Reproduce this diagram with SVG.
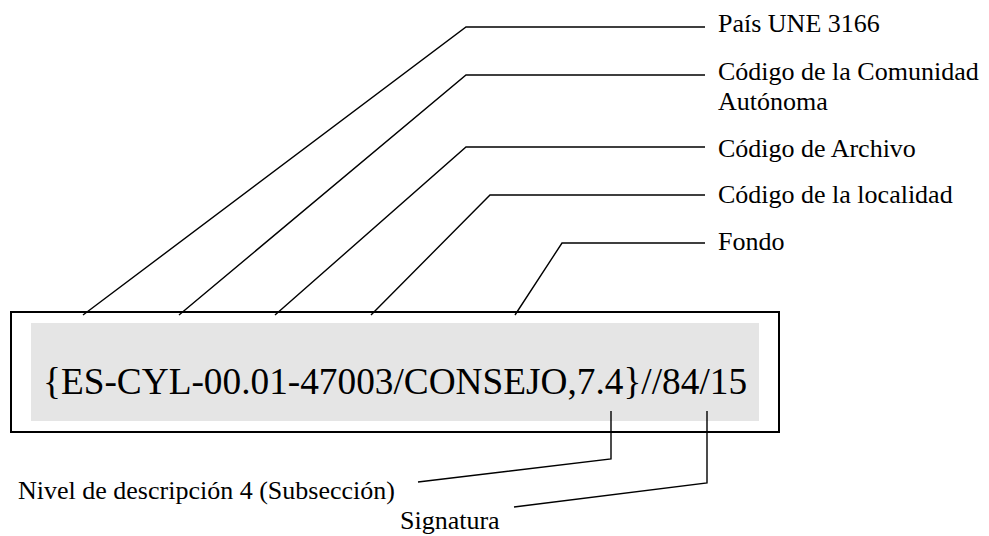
<svg xmlns="http://www.w3.org/2000/svg" width="989" height="536" viewBox="0 0 989 536">
<style>
.lbl{font-family:"Liberation Serif","Times New Roman",serif;font-size:26px;fill:#000}
.code{font-family:"Liberation Serif","Times New Roman",serif;font-size:37.3px;fill:#000}
.ln{fill:none;stroke:#000;stroke-width:1.4}
</style>
<rect x="0" y="0" width="989" height="536" fill="#fff"/>
<g id="code-box">
<rect x="11" y="312" width="768" height="120" fill="#fff" stroke="#000" stroke-width="2"/>
<rect x="31" y="323" width="728" height="98" fill="#e5e5e5"/>
<text class="code" x="43" y="394">{ES-CYL-00.01-47003/CONSEJO,7.4}//84/15</text>
</g>
<g id="connectors">
<polyline class="ln" points="83,315 466,27 705,27"/>
<polyline class="ln" points="179,315 466,75 705,75"/>
<polyline class="ln" points="275,315 466,147 705,147"/>
<polyline class="ln" points="371,315 490,195 705,195"/>
<polyline class="ln" points="515,315 562,243 705,243"/>
<polyline class="ln" points="611,411 611,459 418,482"/>
<polyline class="ln" points="707,411 707,483 514,507"/>
</g>
<g id="label-pais"><text class="lbl" x="718" y="32">País UNE 3166</text></g>
<g id="label-comunidad"><text class="lbl" x="718" y="80">Código de la Comunidad</text><text class="lbl" x="718" y="110">Autónoma</text></g>
<g id="label-archivo"><text class="lbl" x="718" y="157">Código de Archivo</text></g>
<g id="label-localidad"><text class="lbl" x="718" y="203">Código de la localidad</text></g>
<g id="label-fondo"><text class="lbl" x="718" y="250">Fondo</text></g>
<g id="label-nivel"><text class="lbl" x="18" y="499">Nivel de descripción 4 (Subsección)</text></g>
<g id="label-signatura"><text class="lbl" x="400" y="529">Signatura</text></g>
</svg>
